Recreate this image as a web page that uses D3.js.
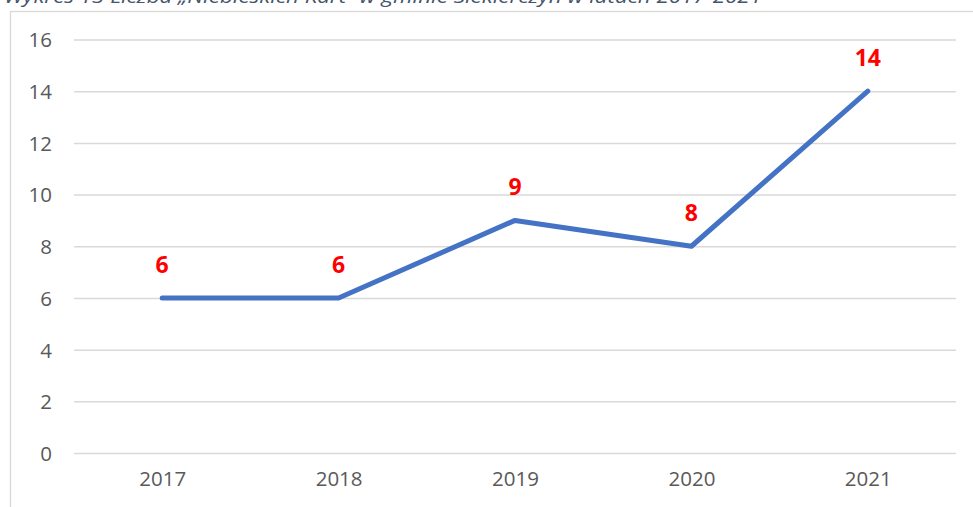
<!DOCTYPE html>
<html>
<head>
<meta charset="utf-8">
<script src="https://cdn.jsdelivr.net/npm/d3@7"></script>
<style>
  html, body { margin: 0; padding: 0; background: #fff; overflow: hidden; }
  svg { display: block; }
</style>
</head>
<body>
<svg id="chart" width="973" height="507"></svg>
<script>
const titleText = "Wykres 13 Liczba „Niebieskich Kart” w gminie Siekierczyn w latach 2017-2021";
const years = ["2017", "2018", "2019", "2020", "2021"];
const values = [6, 6, 9, 8, 14];
const yTicks = [0, 2, 4, 6, 8, 10, 12, 14, 16];

const svg = d3.select("#chart");
const plot = { left: 74, right: 956, top: 39.5, bottom: 453 };
const FONT = "'Open Sans', 'Liberation Sans', sans-serif";

// chart frame (only left & top edges visible)
svg.append("rect")
  .attr("x", 10.5).attr("y", 11.5)
  .attr("width", 1200).attr("height", 800)
  .attr("fill", "#fff")
  .attr("stroke", "#d9d9d9").attr("stroke-width", 1.3);

// title (partially cut at top, as in the reference)
svg.append("text")
  .attr("x", 4).attr("y", 3)
  .attr("font-family", FONT)
  .attr("font-style", "italic")
  .attr("font-size", 18)
  .attr("fill", "#44546a")
  .attr("textLength", 758)
  .attr("lengthAdjust", "spacingAndGlyphs")
  .text(titleText);

const x = d3.scalePoint().domain(years).range([plot.left, plot.right]).padding(0.5);
const y = d3.scaleLinear().domain([0, 16]).range([plot.bottom, plot.top]);

// gridlines + y labels
const yAxis = d3.axisLeft(y).tickValues(yTicks)
  .tickSize(-(plot.right - plot.left)).tickPadding(22).tickFormat(d3.format("d"));
const gy = svg.append("g").attr("transform", `translate(${plot.left},0)`).call(yAxis);
gy.select(".domain").remove();
gy.selectAll(".tick line").attr("stroke", "#d9d9d9").attr("stroke-width", 1.5);
gy.selectAll(".tick text")
  .attr("font-family", FONT)
  .attr("font-size", 20.5)
  .attr("fill", "#595959")
  .attr("dy", "0.36em");

// x axis labels
const xAxis = d3.axisBottom(x).tickSize(0).tickPadding(18);
const gx = svg.append("g").attr("transform", `translate(0,${plot.bottom})`).call(xAxis);
gx.select(".domain").remove();
gx.selectAll(".tick text")
  .attr("font-family", FONT)
  .attr("font-size", 20.5)
  .attr("fill", "#595959");

// line
const line = d3.line().x((d, i) => x(years[i])).y(d => y(d));
svg.append("path")
  .datum(values)
  .attr("d", line)
  .attr("fill", "none")
  .attr("stroke", "#4472c4")
  .attr("stroke-width", 5)
  .attr("stroke-linecap", "round")
  .attr("stroke-linejoin", "round");

// data labels
svg.append("g").selectAll("text")
  .data(values)
  .join("text")
  .attr("x", (d, i) => x(years[i]))
  .attr("y", d => y(d) - 25)
  .attr("text-anchor", "middle")
  .attr("font-family", FONT)
  .attr("font-weight", "bold")
  .attr("font-size", 23)
  .attr("fill", "#ff0000")
  .text(d => d);
</script>
</body>
</html>
